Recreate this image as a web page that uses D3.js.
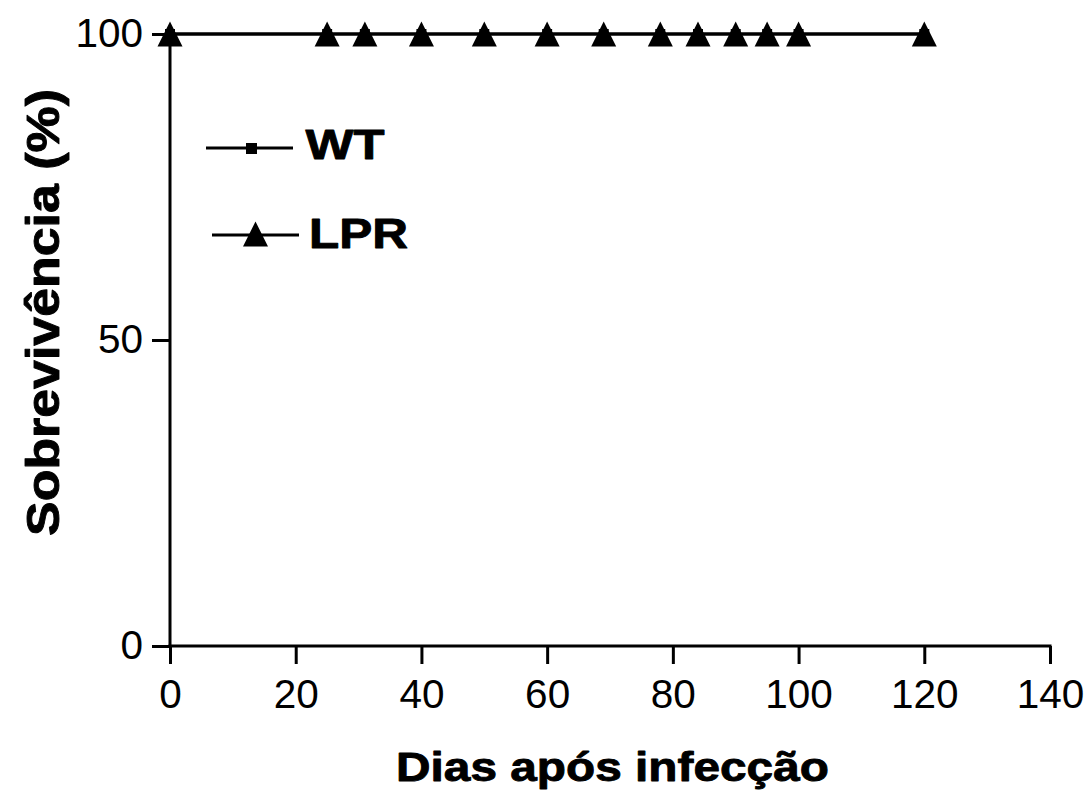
<!DOCTYPE html>
<html>
<head>
<meta charset="utf-8">
<script src="https://cdn.jsdelivr.net/npm/d3@7"></script>
<style>
  html, body { margin: 0; padding: 0; background: #fff; }
  svg { display: block; }
  text { font-family: "Liberation Sans", Arial, Helvetica, sans-serif; fill: #000; }
</style>
</head>
<body>
<svg id="chart" width="1089" height="797"></svg>
<script>
// Survival data (days after infection vs. % surviving)
const wtDays = [0, 25, 31, 40, 50, 60, 69, 78, 84, 90, 95, 100, 120];
const wtSurvival = [100, 100, 100, 100, 100, 100, 100, 100, 100, 100, 100, 100, 100];
const lprDays = [0, 25, 31, 40, 50, 60, 69, 78, 84, 90, 95, 100, 120];
const lprSurvival = [100, 100, 100, 100, 100, 100, 100, 100, 100, 100, 100, 100, 100];
const xTicks = [0, 20, 40, 60, 80, 100, 120, 140];
const yTicks = [0, 50, 100];
const seriesNames = ["WT", "LPR"];

const svg = d3.select("#chart");

const x = d3.scaleLinear().domain([0, 140]).range([170, 1050]);
const y = d3.scaleLinear().domain([0, 100]).range([646, 34]);

const axisStroke = 3;

// Axes
const xAxis = svg.append("g")
  .attr("transform", `translate(0,${y(0)})`)
  .call(d3.axisBottom(x).tickValues(xTicks).tickSize(18).tickSizeOuter(0).tickPadding(15).tickFormat(d3.format("d")));
const yAxis = svg.append("g")
  .attr("transform", `translate(${x(0)},0)`)
  .call(d3.axisLeft(y).tickValues(yTicks).tickSize(18).tickSizeOuter(0).tickPadding(9).tickFormat(d3.format("d")));

[xAxis, yAxis].forEach(g => {
  g.selectAll("path, line").attr("stroke", "#000").attr("stroke-width", axisStroke);
  g.selectAll("text").style("font-size", "40.5px").attr("fill", "#000");
  g.attr("font-family", null).attr("font-size", null);
});
xAxis.select(".domain").attr("d", `M${x(0) - 1.5},0H${x(140) + 1.5}`);
yAxis.select(".domain").attr("d", `M0,${y(0) + 1.5}V${y(100)}`);

// Triangle marker centred on its bounding box
function triPath(cx, cy, s) {
  const h = s / 2;
  return `M${cx},${cy - h}L${cx + h},${cy + h}L${cx - h},${cy + h}Z`;
}

// Bold label widened horizontally to a given advance width
function wideText(parent, str, size, width, tx, ty, rotate, anchor) {
  const g = parent.append("g");
  const t = g.append("text")
    .attr("text-anchor", anchor || "start")
    .style("font-size", size + "px").style("font-weight", "bold")
    .attr("stroke", "#000").attr("stroke-width", 0.9).attr("stroke-linejoin", "round")
    .text(str);
  const natural = t.node().getComputedTextLength();
  const sx = width / natural;
  g.attr("transform", `translate(${tx},${ty}) rotate(${rotate || 0}) scale(${sx},1)`);
  return g;
}

const line = d3.line().x(d => x(d[0])).y(d => y(d[1]));

const wt = wtDays.map((d, i) => [d, wtSurvival[i]]);
const lpr = lprDays.map((d, i) => [d, lprSurvival[i]]);

// WT series
svg.append("path").datum(wt).attr("d", line)
  .attr("fill", "none").attr("stroke", "#000").attr("stroke-width", 3);
svg.append("g").selectAll("rect").data(wt).join("rect")
  .attr("x", d => x(d[0]) - 5).attr("y", d => y(d[1]) - 5)
  .attr("width", 10).attr("height", 10).attr("fill", "#000");

// LPR series
svg.append("path").datum(lpr).attr("d", line)
  .attr("fill", "none").attr("stroke", "#000").attr("stroke-width", 3);
svg.append("g").selectAll("path").data(lpr).join("path")
  .attr("d", d => triPath(x(d[0]), y(d[1]), 25)).attr("fill", "#000");

// Legend
const leg = svg.append("g");
leg.append("line").attr("x1", 206).attr("x2", 293).attr("y1", 148).attr("y2", 148)
  .attr("stroke", "#000").attr("stroke-width", 3);
leg.append("rect").attr("x", 246).attr("y", 143).attr("width", 11).attr("height", 11).attr("fill", "#000");
wideText(leg, seriesNames[0], 43, 79, 305.5, 158.5);

leg.append("line").attr("x1", 212).attr("x2", 299).attr("y1", 235).attr("y2", 235)
  .attr("stroke", "#000").attr("stroke-width", 3);
leg.append("path").attr("d", triPath(255.5, 234, 25)).attr("fill", "#000");
wideText(leg, seriesNames[1], 43, 99, 309, 247.5);

// Axis titles
wideText(svg, "Dias após infecção", 41.5, 433, 612.5, 780.5, 0, "middle");
wideText(svg, "Sobrevivência (%)", 46, 447, 59, 312.5, -90, "middle");
</script>
</body>
</html>
